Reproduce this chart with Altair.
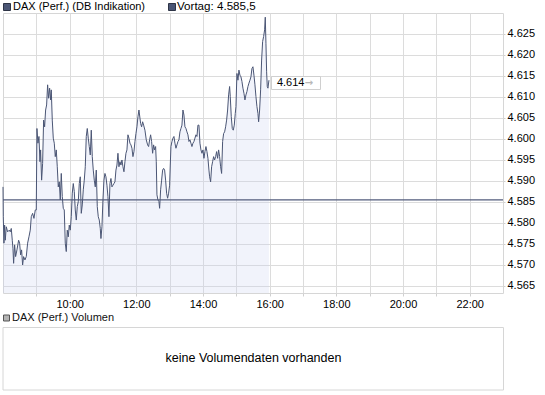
import altair as alt
import pandas as pd

# ---- data (minutes after 08:00, index points) ----
minutes = [
    0, 0.5, 1.7, 2.9, 4.1, 5.9, 8.3, 11.3, 13.1, 14.9,
    16.7, 17.9, 19.1, 20.9, 22.7, 25.1, 28.1, 29.9, 31.7, 33.5,
    35.3, 37.1, 39.5, 41.9, 44.3, 46.7, 49.1, 50.9, 53.3, 55.7,
    58.1, 59.9, 61.1, 62.9, 64.7, 66.5, 67.7, 69.5, 71.3, 73.1,
    74.9, 76.7, 78.5, 80.3, 82.1, 83.9, 85.7, 86.9, 88.7, 90.5,
    92.3, 94.1, 95.9, 97.7, 99.5, 101.3, 103.1, 104.9, 106.7, 108.5,
    110.3, 112.1, 113.9, 115.7, 117.5, 119.3, 121.1, 122.9, 124.7, 126.5,
    128.3, 130.1, 131.9, 133.7, 135.5, 137.3, 139.1, 140.9, 142.7, 144.5,
    146.3, 148.1, 149.9, 151.7, 153.5, 155.3, 157.1, 158.9, 160.7, 162.5,
    164.3, 166.1, 167.9, 169.7, 171.5, 173.3, 175.1, 176.3, 178.1, 179.9,
    181.7, 183.5, 185.3, 187.1, 188.9, 190.7, 192.5, 194.3, 196.1, 197.9,
    199.7, 201.5, 203.3, 205.1, 206.9, 208.7, 210.5, 212.3, 214.1, 215.9,
    217.7, 219.5, 221.3, 223.1, 224.9, 226.7, 228.5, 230.3, 232.1, 233.9,
    235.7, 237.5, 239.3, 241.1, 242.9, 244.7, 247.7, 249.5, 251.3, 253.1,
    255.5, 257.9, 260.3, 262.1, 263.9, 265.7, 267.5, 269.3, 271.1, 272.9,
    274.7, 275.9, 277.1, 278.9, 280.7, 281.9, 283.7, 285.5, 287.3, 289.1,
    290.9, 292.7, 294.5, 296.3, 298.1, 299.9, 301.1, 302.3, 304.1, 305.9,
    307.7, 309.5, 311.3, 313.1, 314.9, 316.7, 318.5, 320.3, 322.1, 323.9,
    325.7, 327.5, 329.3, 331.1, 332.9, 334.7, 336.5, 338.3, 340.1, 341.9,
    343.7, 345.5, 347.3, 349.1, 350.9, 352.7, 354.5, 356.3, 358.1, 359.9,
    361.7, 363.5, 365.3, 367.1, 368.9, 370.7, 371.9, 373.7, 375.5, 377.3,
    379.1, 380.9, 382.7, 384.5, 386.3, 388.1, 389.9, 391.7, 393.5, 395.3,
    397.1, 398.9, 400.7, 402.5, 404.3, 406.1, 407.9, 409.1, 410.9, 412.7,
    414.5, 416.3, 418.1, 419.3, 421.1, 422.9, 424.7, 426.5, 428.3, 430.1,
    431.9, 433.7, 435.5, 437.3, 439.1, 440.9, 442.7, 444.5, 446.3, 448.1,
    449.9, 451.7, 453.5, 455.3, 457.1, 458.9, 460.1, 461.9, 463.7, 465.5,
    467.3, 469.1, 470.9, 472.1, 473.3, 474.5, 475.7, 476.9, 478.7,
]
prices = [
    4588.6, 4581.5, 4575.2, 4579.5, 4575.9, 4579.1, 4577.9, 4578.3, 4577.9, 4578.7,
    4575.9, 4574.0, 4570.4, 4574.8, 4572.0, 4573.6, 4575.9, 4575.2, 4572.4, 4573.6,
    4570.0, 4572.0, 4571.2, 4572.0, 4575.2, 4576.7, 4578.3, 4581.5, 4582.3, 4581.1,
    4583.1, 4583.1, 4602.5, 4599.0, 4600.6, 4594.6, 4597.4, 4590.2, 4594.2, 4604.5,
    4602.9, 4606.9, 4608.1, 4612.9, 4609.7, 4612.1, 4609.3, 4611.7, 4604.5, 4600.2,
    4599.0, 4595.8, 4597.4, 4593.4, 4588.6, 4589.8, 4585.5, 4591.8, 4586.3, 4583.5,
    4583.1, 4575.2, 4573.2, 4578.3, 4576.7, 4579.5, 4578.3, 4581.5, 4587.1, 4589.4,
    4587.5, 4583.1, 4580.7, 4583.9, 4585.1, 4589.4, 4591.0, 4582.3, 4584.3, 4587.9,
    4590.2, 4593.4, 4600.6, 4602.5, 4600.2, 4598.2, 4596.2, 4602.1, 4595.8, 4592.6,
    4590.2, 4588.6, 4592.6, 4583.9, 4581.5, 4580.7, 4578.7, 4576.3, 4579.1, 4585.5,
    4590.2, 4591.8, 4591.0, 4589.0, 4586.3, 4581.5, 4589.4, 4590.6, 4588.6, 4589.0,
    4589.4, 4589.8, 4592.6, 4593.8, 4596.6, 4593.4, 4594.6, 4593.8, 4595.0, 4593.4,
    4592.2, 4594.6, 4596.6, 4597.4, 4601.0, 4600.2, 4599.0, 4598.6, 4597.8, 4595.8,
    4597.0, 4599.4, 4601.3, 4602.9, 4605.3, 4606.9, 4603.7, 4602.9, 4604.1, 4603.3,
    4602.1, 4599.8, 4598.6, 4598.2, 4599.8, 4601.0, 4599.4, 4596.6, 4598.6, 4597.4,
    4598.2, 4594.6, 4586.7, 4585.5, 4585.1, 4583.5, 4587.9, 4590.2, 4592.6, 4593.0,
    4592.6, 4590.2, 4587.1, 4585.9, 4587.1, 4589.0, 4593.8, 4598.2, 4599.4, 4600.2,
    4600.6, 4599.0, 4597.8, 4598.6, 4599.4, 4599.8, 4601.7, 4602.5, 4603.3, 4606.9,
    4605.7, 4602.9, 4602.5, 4601.7, 4601.0, 4599.4, 4599.8, 4599.0, 4598.2, 4599.0,
    4599.4, 4600.2, 4601.0, 4600.6, 4603.3, 4603.3, 4599.0, 4597.4, 4596.6, 4597.4,
    4595.4, 4597.0, 4598.2, 4597.0, 4595.4, 4592.6, 4591.0, 4589.8, 4593.4, 4594.6,
    4595.8, 4595.0, 4595.8, 4597.0, 4595.4, 4597.4, 4595.8, 4593.4, 4591.8, 4599.4,
    4601.3, 4601.7, 4602.9, 4604.5, 4606.9, 4610.5, 4612.5, 4610.1, 4605.3, 4602.5,
    4602.1, 4603.3, 4606.1, 4607.7, 4615.6, 4614.0, 4616.4, 4615.2, 4614.8, 4613.7,
    4612.1, 4610.9, 4609.3, 4610.5, 4611.3, 4612.5, 4613.3, 4614.0, 4614.8, 4616.8,
    4617.2, 4615.2, 4612.9, 4610.1, 4607.7, 4606.1, 4604.1, 4606.9, 4611.7, 4618.8,
    4623.2, 4624.4, 4626.0, 4629.0, 4622.8, 4616.0, 4612.5, 4612.1, 4614.0,
]
vortag = 4585.5
series_name = "DAX (Perf.) (DB Indikation)"
volume_name = "DAX (Perf.) Volumen"
no_volume_text = "keine Volumendaten vorhanden"
y_ticks = [4565, 4570, 4575, 4580, 4585, 4590, 4595, 4600, 4605, 4610, 4615, 4620, 4625]
x_ticks = list(range(9, 23))
x_domain = [8, 23]
y_domain = [4563.333, 4630]

assert len(minutes) == len(prices)


def de(v, d=0):
    s = f"{v:,.{d}f}"
    return s.replace(",", "X").replace(".", ",").replace("X", ".")


df = pd.DataFrame({"t": [8 + m / 60 for m in minutes], "p": prices})
last_df = pd.DataFrame({"t": [8 + minutes[-1] / 60], "p": [prices[-1]],
                        "label": [de(prices[-1])]})
vortag_df = pd.DataFrame({"t": [x_domain[0]], "p": [vortag]})
one = pd.DataFrame({"a": [0]})

FONT = "Liberation Sans"
LINE = "#4b5675"
GRID = "#dcdcdc"

xs = alt.Scale(domain=x_domain, nice=False, zero=False)
ys = alt.Scale(domain=y_domain, nice=False, zero=False)

x_axis = alt.Axis(
    values=x_ticks, grid=True, gridColor=GRID, domain=False,
    tickSize=3, tickColor="#d0d0d0",
    labelExpr="datum.value % 2 == 0 ? datum.value + ':00' : ''",
    labelPadding=2, labelFontSize=11, labelFont=FONT, labelColor="#000",
    labelOverlap=False, labelFlush=False, title=None,
)
y_axis = alt.Axis(
    orient="right", values=y_ticks, grid=True, gridColor=GRID, domain=False,
    tickSize=2, tickColor="#d0d0d0",
    labelExpr="replace(format(datum.value, ','), ',', '.')",
    labelPadding=2, labelFontSize=11, labelFont=FONT, labelColor="#000",
    labelOverlap=False, labelFlush=False, title=None,
)
X = alt.X("t:Q", scale=xs, axis=x_axis)
Y = alt.Y("p:Q", scale=ys, axis=y_axis)

area = alt.Chart(df).mark_area(color="#c9cff0", opacity=0.25).encode(
    x=X, y=Y, y2=alt.datum(y_domain[0]))
rule = alt.Chart(vortag_df).mark_rule(color="#535c7c", strokeWidth=1.3).encode(y=Y)
line = alt.Chart(df).mark_line(color=LINE, strokeWidth=1).encode(x=X, y=Y)

box = alt.Chart(one).mark_rect(fill="white", stroke="#cfcfcf", strokeWidth=1).encode(
    x=alt.value(268.5), x2=alt.value(317.5), y=alt.value(63.5), y2=alt.value(76.5))
last_text = alt.Chart(last_df).mark_text(
    align="left", baseline="middle", dx=8, dy=2.5, fontSize=11, font=FONT, color="#000"
).encode(x=X, y=Y, text="label:N")
last_arrow = alt.Chart(last_df).mark_text(
    align="center", baseline="middle", dx=40, dy=2.5, fontSize=10, font="DejaVu Sans",
    color="#b8b8b8", fontWeight="bold"
).encode(x=X, y=Y, text=alt.value("→"))

sq1 = alt.Chart(one).mark_rect(fill=LINE, stroke="#2e3446", strokeWidth=1).encode(
    x=alt.value(0.5), x2=alt.value(7.5), y=alt.value(-9.5), y2=alt.value(-2.5))
t1 = alt.Chart(one).mark_text(align="left", baseline="middle", fontSize=11, font=FONT,
                              color="#000").encode(
    x=alt.value(10), y=alt.value(-6), text=alt.value(series_name))
sq2 = alt.Chart(one).mark_rect(fill=LINE, stroke="#2e3446", strokeWidth=1).encode(
    x=alt.value(165.5), x2=alt.value(172.5), y=alt.value(-9.5), y2=alt.value(-2.5))
t2 = alt.Chart(one).mark_text(align="left", baseline="middle", fontSize=11.6, font=FONT,
                              color="#000").encode(
    x=alt.value(174), y=alt.value(-6), text=alt.value("Vortag: " + de(vortag, 1)))

sq3 = alt.Chart(one).mark_rect(fill="#b4b4b4", stroke="#555555", strokeWidth=1).encode(
    x=alt.value(0.5), x2=alt.value(6.5), y=alt.value(302), y2=alt.value(308))
t3 = alt.Chart(one).mark_text(align="left", baseline="middle", fontSize=11, font=FONT,
                              color="#111").encode(
    x=alt.value(9), y=alt.value(305), text=alt.value(volume_name))
vbox = alt.Chart(one).mark_rect(fill="white", stroke="#d6d6d6", strokeWidth=1).encode(
    x=alt.value(0), x2=alt.value(500.5), y=alt.value(314.5), y2=alt.value(377))
t4 = alt.Chart(one).mark_text(align="center", baseline="middle", fontSize=12.5, font=FONT,
                              color="#000").encode(
    x=alt.value(250.5), y=alt.value(345), text=alt.value(no_volume_text))

chart = alt.layer(
    area, rule, line, box, last_text, last_arrow, sq1, t1, sq2, t2, vbox, sq3, t3, t4
).properties(
    width=500, height=280,
    autosize=alt.AutoSizeParams(type="none"),
    padding={"left": 3, "top": 13, "right": 42, "bottom": 102},
    background="white",
).configure_view(stroke="#d6d6d6", strokeWidth=1).configure_axis(
    labelOverlap=False, labelFlush=False)

chart.save("out.html", embed_options={"renderer": "svg", "actions": False})
